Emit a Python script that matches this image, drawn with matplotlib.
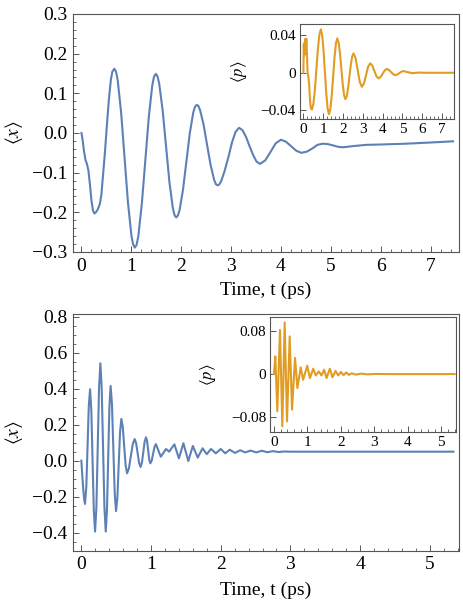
import numpy as np
import matplotlib
matplotlib.use('Agg')
import matplotlib.pyplot as plt
from matplotlib.ticker import MultipleLocator

plt.rcParams['font.family'] = ['Liberation Serif', 'DejaVu Serif']
plt.rcParams['mathtext.fontset'] = 'stix'

azul = '#5E81B5'
naranja = '#E19C24'
marco = '#555555'

# Panel superior, <x>(t)
t1 = [0, 0.02, 0.05, 0.08, 0.11, 0.14, 0.17, 0.20, 0.23, 0.26, 0.29, 0.33, 0.37, 0.40,
      0.43, 0.47, 0.51, 0.55, 0.59, 0.62, 0.66, 0.694,
      0.728, 0.797, 0.865, 0.933, 1.002, 1.036, 1.07, 1.105,
      1.14, 1.21, 1.28, 1.35, 1.42, 1.455, 1.49, 1.524,
      1.558, 1.627, 1.695, 1.763, 1.832, 1.866, 1.90, 1.934,
      1.968, 2.037, 2.105, 2.173, 2.242, 2.276, 2.31, 2.345,
      2.38, 2.45, 2.52, 2.59, 2.66, 2.695, 2.73, 2.765,
      2.80, 2.87, 2.95, 3.02, 3.09, 3.16,
      3.23, 3.30, 3.37, 3.44, 3.51, 3.58,
      3.685, 3.79, 3.895, 4.00,
      4.10, 4.21, 4.31, 4.41,
      4.52, 4.63, 4.73, 4.84,
      4.94, 5.05, 5.15, 5.25,
      5.45, 5.7, 6.0, 6.5, 7.0, 7.45]
x1 = [0, -0.015, -0.045, -0.068, -0.078, -0.095, -0.13, -0.17, -0.195, -0.203, -0.200, -0.192, -0.178, -0.155,
      -0.11, -0.05, 0.02, 0.085, 0.135, 0.155, 0.162, 0.154,
      0.132, 0.049, -0.064, -0.176, -0.259, -0.281, -0.289, -0.282,
      -0.260, -0.179, -0.070, 0.040, 0.120, 0.142, 0.149, 0.143,
      0.125, 0.058, -0.032, -0.123, -0.189, -0.207, -0.213, -0.208,
      -0.194, -0.142, -0.071, 0.0, 0.052, 0.066, 0.071, 0.068,
      0.057, 0.020, -0.031, -0.081, -0.118, -0.129, -0.132, -0.1295,
      -0.122, -0.096, -0.059, -0.023, 0.003, 0.013,
      0.007, -0.010, -0.033, -0.055, -0.072, -0.078,
      -0.069, -0.048, -0.026, -0.017,
      -0.022, -0.034, -0.045, -0.050,
      -0.047, -0.039, -0.030, -0.027,
      -0.028, -0.0315, -0.035, -0.036,
      -0.033, -0.030, -0.029, -0.027, -0.024, -0.021]

# recuadro superior, <p>(t)
tp1 = [0, 0.02, 0.04, 0.06, 0.08, 0.10, 0.12, 0.15, 0.18, 0.21, 0.25, 0.29, 0.33, 0.37, 0.43,
       0.505, 0.58, 0.655, 0.73, 0.805, 0.88,
       0.948, 1.017, 1.085, 1.153, 1.222, 1.29,
       1.36, 1.43, 1.50, 1.57, 1.64, 1.71,
       1.778, 1.847, 1.915, 1.983, 2.052, 2.12,
       2.188, 2.257, 2.325, 2.393, 2.462, 2.53,
       2.635, 2.74, 2.845, 2.95,
       3.055, 3.16, 3.265, 3.37,
       3.475, 3.58, 3.685, 3.79,
       3.895, 4.0, 4.105, 4.21,
       4.315, 4.42, 4.525, 4.63,
       4.735, 4.84, 4.945, 5.05,
       5.3, 5.5, 5.8, 6.2, 7.6]
p1 = [0, 0.030, 0.018, 0.032, 0.020, 0.036, 0.025, 0.036, 0.020, 0.0, -0.004, -0.012, -0.028, -0.037, -0.039,
      -0.033, -0.018, 0.0035, 0.025, 0.040, 0.046,
      0.040, 0.0235, 0.001, -0.0215, -0.038, -0.044,
      -0.0386, -0.024, -0.004, 0.016, 0.031, 0.0365,
      0.032, 0.0204, 0.0043, -0.0118, -0.0237, -0.028,
      -0.0247, -0.0159, -0.0037, 0.0085, 0.0173, 0.0206,
      0.0154, 0.0028, -0.0097, -0.0149,
      -0.0113, -0.0025, 0.0064, 0.010,
      0.0077, 0.002, -0.0037, -0.006,
      -0.0045, -0.001, 0.0025, 0.004,
      0.003, 0.0008, -0.0015, -0.0025,
      -0.0019, -0.0004, 0.0012, 0.0018,
      0.0005, -0.0005, 0.0002, 0, 0]

# Panel inferior, <x>(t)
t2 = [0, 0.015, 0.03, 0.042, 0.053,
      0.071, 0.089, 0.107, 0.125,
      0.143, 0.161, 0.179, 0.197,
      0.216, 0.235, 0.254, 0.273,
      0.292, 0.3115, 0.331, 0.35,
      0.3675, 0.385, 0.4025, 0.42,
      0.4395, 0.459, 0.4785, 0.498,
      0.517, 0.536, 0.555, 0.574,
      0.5945, 0.615, 0.6355, 0.656,
      0.683, 0.71, 0.738, 0.765,
      0.786, 0.8075, 0.829, 0.85,
      0.8695, 0.889, 0.9085, 0.928,
      0.9435, 0.959, 0.9745, 0.99,
      1.01, 1.03, 1.05, 1.07,
      1.105, 1.14, 1.1775, 1.215, 1.26, 1.2975, 1.335,
      1.3675, 1.40, 1.4325, 1.465, 1.50, 1.535, 1.5675, 1.60, 1.635, 1.67,
      1.705, 1.74, 1.77, 1.80, 1.83, 1.86, 1.895, 1.93, 1.965, 2.0,
      2.0325, 2.065, 2.0975, 2.13, 2.1675, 2.205, 2.2425, 2.28, 2.315, 2.35,
      2.43, 2.51, 2.59, 2.67, 2.75, 2.83, 2.91, 3.0, 3.5, 4.0, 4.5, 5.34]
x2 = [0, -0.09, -0.17, -0.22, -0.24,
      -0.147, 0.0785, 0.304, 0.397,
      0.2815, 0.0015, -0.2785, -0.394,
      -0.2575, 0.0735, 0.4045, 0.541,
      0.4045, 0.0735, -0.2575, -0.394,
      -0.276, 0.0105, 0.297, 0.415,
      0.3135, 0.0675, -0.1785, -0.28,
      -0.205, -0.024, 0.157, 0.232,
      0.188, 0.081, -0.026, -0.07,
      -0.042, 0.025, 0.092, 0.12,
      0.0974, 0.0425, -0.0124, -0.035,
      -0.011, 0.0475, 0.106, 0.13,
      0.109, 0.0575, 0.006, -0.015,
      0.0006, 0.0385, 0.0764, 0.092,
      0.057, 0.022, 0.0435, 0.065, 0.05, 0.0705, 0.091,
      0.052, 0.013, 0.055, 0.097, 0.0475, -0.002, 0.04, 0.082, 0.0495, 0.017,
      0.043, 0.069, 0.0525, 0.036, 0.0505, 0.065, 0.053, 0.041, 0.053, 0.065,
      0.053, 0.041, 0.051, 0.061, 0.052, 0.043, 0.0505, 0.058, 0.052, 0.046,
      0.056, 0.046, 0.055, 0.047, 0.053, 0.048, 0.051, 0.05, 0.05, 0.05, 0.05, 0.05]

# recuadro inferior, <p>(t)
tp2 = [0, 0.04, 0.10, 0.18, 0.25, 0.32, 0.39, 0.47, 0.54, 0.63, 0.70, 0.80, 0.87,
       0.995, 1.075, 1.175, 1.25, 1.34, 1.42, 1.50, 1.57, 1.67, 1.75, 1.84, 1.92,
       2.0, 2.08, 2.16, 2.24, 2.32, 2.45, 2.6, 2.8, 3.0, 3.5, 5.4]
p2 = [0, 0.033, -0.069, 0.082, -0.097, 0.096, -0.088, 0.070, -0.066, 0.030, -0.026, 0.0125, -0.0106,
      0.0155, -0.0074, 0.010, -0.0025, 0.005, -0.0025, 0.008, -0.0074, 0.010, -0.006, 0.006, -0.0025,
      0.004, -0.002, 0.003, -0.0015, 0.0015, -0.001, 0.0008, -0.0005, 0.0003, 0, 0]

yt1 = [-0.3, -0.2, -0.1, 0.0, 0.1, 0.2, 0.3]
ytl1 = ['\u22120.3', '\u22120.2', '\u22120.1', '0.0', '0.1', '0.2', '0.3']
yt2 = [-0.4, -0.2, 0.0, 0.2, 0.4, 0.6, 0.8]
ytl2 = ['\u22120.4', '\u22120.2', '0.0', '0.2', '0.4', '0.6', '0.8']
ytp1 = [-0.04, 0, 0.04]
ytlp1 = ['\u22120.04', '0', '0.04']
ytp2 = [-0.08, 0, 0.08]
ytlp2 = ['\u22120.08', '0', '0.08']


def estilo(ax, tam, pad, mx, my):
    for s in ax.spines.values():
        s.set_color(marco)
        s.set_linewidth(0.8)
    ax.tick_params(which='both', direction='in', top=False, right=False,
                   color=marco, labelsize=tam, pad=pad)
    ax.tick_params(which='major', length=4, width=0.7)
    ax.tick_params(which='minor', length=2, width=0.6)
    ax.xaxis.set_minor_locator(MultipleLocator(mx))
    if my:
        ax.yaxis.set_minor_locator(MultipleLocator(my))


fig = plt.figure(figsize=(4.64, 6.0), dpi=100)

# superior
ax1 = fig.add_axes([0.1573, 0.58, 0.8319, 0.3967])
ax1.plot(t1, x1, color=azul, lw=1.5)
ax1.set_xlim(-0.17, 7.57)
ax1.set_ylim(-0.3, 0.3)
ax1.set_xticks(range(8))
ax1.set_yticks(yt1, ytl1)
estilo(ax1, 14, 4, 0.2, 0.02)
ax1.set_ylabel(r'$\langle x\rangle$', fontsize=14)
ax1.yaxis.set_label_coords(-0.125, 0.5)
ax1.set_xlabel('Time, t (ps)', fontsize=14)
ax1.xaxis.set_label_coords(0.5, -0.125)

ai1 = fig.add_axes([0.6466, 0.8017, 0.3319, 0.1583])
ai1.plot(tp1, p1, color=naranja, lw=1.5)
ai1.set_xlim(-0.17, 7.6)
ai1.set_ylim(-0.049, 0.0517)
ai1.set_xticks(range(8))
ai1.set_yticks(ytp1, ytlp1)
estilo(ai1, 11, 3, 0.2, None)
ai1.set_ylabel(r'$\langle p\rangle$', fontsize=12)
ai1.yaxis.set_label_coords(-0.33, 0.5)

# inferior
ax2 = fig.add_axes([0.1573, 0.0822, 0.8319, 0.3945])
ax2.plot(t2, x2, color=azul, lw=1.5)
ax2.set_xlim(-0.12, 5.42)
ax2.set_ylim(-0.5, 0.815)
ax2.set_xticks(range(6))
ax2.set_yticks(yt2, ytl2)
estilo(ax2, 14, 4, 0.2, 0.05)
ax2.set_ylabel(r'$\langle x\rangle$', fontsize=14)
ax2.yaxis.set_label_coords(-0.125, 0.5)
ax2.set_xlabel('Time, t (ps)', fontsize=14)
ax2.xaxis.set_label_coords(0.5, -0.13)

ai2 = fig.add_axes([0.5825, 0.2805, 0.4002, 0.1907])
ai2.plot(tp2, p2, color=naranja, lw=1.5)
ai2.set_xlim(-0.11, 5.44)
ai2.set_ylim(-0.107, 0.1055)
ai2.set_xticks(range(6))
ai2.set_yticks(ytp2, ytlp2)
estilo(ai2, 11, 3, 0.2, None)
ai2.set_ylabel(r'$\langle p\rangle$', fontsize=12)
ai2.yaxis.set_label_coords(-0.28, 0.5)

fig.savefig('out.png', dpi=100)
